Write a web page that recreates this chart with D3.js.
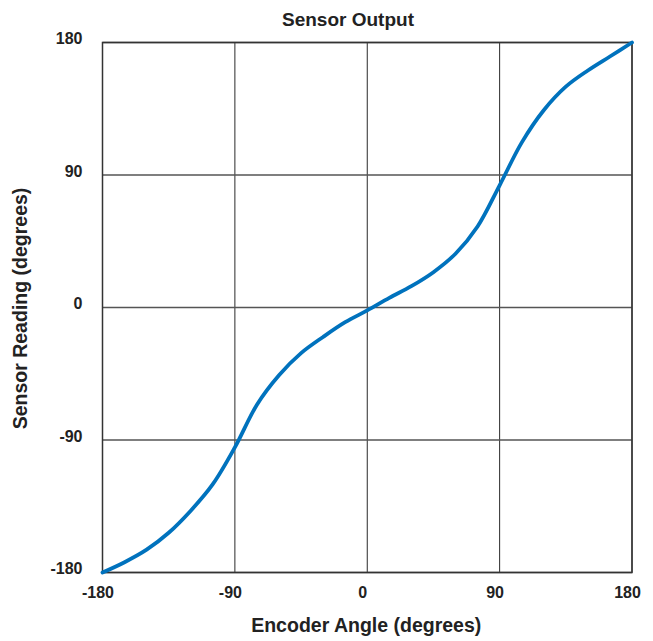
<!DOCTYPE html>
<html>
<head>
<meta charset="utf-8">
<script src="https://cdn.jsdelivr.net/npm/d3@7"></script>
<style>
  body { margin: 0; background: #fff; overflow: hidden; }
  svg { display: block; }
  svg text { font-family: "Liberation Sans", Arial, sans-serif; font-weight: bold; fill: #222; }
</style>
</head>
<body>
<svg id="chart"></svg>
<script>
// encoder angle (deg) vs sensor reading (deg)
const encoderAngle = [-180, -165, -150, -135, -120, -105, -90, -75, -60, -45, -30, -15, 0,
  15, 30, 45, 60, 75, 90, 105, 120, 135, 150, 165, 180];
const sensorReading = [-180, -173, -164.5, -153, -138, -120, -95, -66, -46, -31, -20, -10, -2,
  6.5, 14.5, 24, 36.5, 55, 83, 112, 134, 150, 161, 170.5, 180];
const xTicks = [-180, -90, 0, 90, 180];
const yTicks = [-180, -90, 0, 90, 180];

const width = 653, height = 641;
const margin = { left: 102.5, right: 21, top: 42.5, bottom: 68.5 };
const innerWidth = width - margin.left - margin.right;
const innerHeight = height - margin.top - margin.bottom;

const svg = d3.select("#chart").attr("width", width).attr("height", height);
const plot = svg.append("g").attr("transform", `translate(${margin.left},${margin.top})`);

const xScale = d3.scaleLinear().domain([-180, 180]).range([0, innerWidth]);
const yScale = d3.scaleLinear().domain([-180, 180]).range([innerHeight, 0]);

// grid lines
plot.append("g")
  .selectAll("line")
  .data(xTicks)
  .join("line")
  .attr("x1", (d) => xScale(d))
  .attr("x2", (d) => xScale(d))
  .attr("y1", 0)
  .attr("y2", innerHeight)
  .attr("stroke", "#2a2a2a")
  .attr("stroke-width", 1);

plot.append("g")
  .selectAll("line")
  .data(yTicks)
  .join("line")
  .attr("x1", 0)
  .attr("x2", innerWidth)
  .attr("y1", (d) => yScale(d))
  .attr("y2", (d) => yScale(d))
  .attr("stroke", "#555")
  .attr("stroke-width", 1.3);

// frame
plot.append("rect")
  .attr("width", innerWidth)
  .attr("height", innerHeight)
  .attr("fill", "none")
  .attr("stroke", "#333")
  .attr("stroke-width", 1.5);

// curve
const line = d3.line()
  .x((d, i) => xScale(encoderAngle[i]))
  .y((d) => yScale(d))
  .curve(d3.curveCatmullRom.alpha(0.5));

plot.append("path")
  .datum(sensorReading)
  .attr("fill", "none")
  .attr("stroke", "#0072BD")
  .attr("stroke-width", 3.8)
  .attr("stroke-linecap", "round")
  .attr("d", line);

// tick labels
plot.append("g")
  .selectAll("text")
  .data(xTicks)
  .join("text")
  .attr("x", (d) => xScale(d) - 4.5)
  .attr("y", innerHeight + 25.5)
  .attr("text-anchor", "middle")
  .style("font-size", "16px")
  .text((d) => d);

plot.append("g")
  .selectAll("text")
  .data(yTicks)
  .join("text")
  .attr("x", -20)
  .attr("y", (d) => yScale(d) + 1.5)
  .attr("text-anchor", "end")
  .style("font-size", "16px")
  .text((d) => d);

// titles
svg.append("text")
  .attr("x", 348)
  .attr("y", 26)
  .attr("text-anchor", "middle")
  .style("font-size", "19px")
  .text("Sensor Output");

svg.append("text")
  .attr("x", margin.left + innerWidth / 2 - 1)
  .attr("y", 632)
  .attr("text-anchor", "middle")
  .style("font-size", "19.5px")
  .text("Encoder Angle (degrees)");

svg.append("text")
  .attr("transform", `translate(27, ${margin.top + innerHeight / 2 + 1}) rotate(-90)`)
  .attr("text-anchor", "middle")
  .style("font-size", "19.5px")
  .text("Sensor Reading (degrees)");
</script>
</body>
</html>
